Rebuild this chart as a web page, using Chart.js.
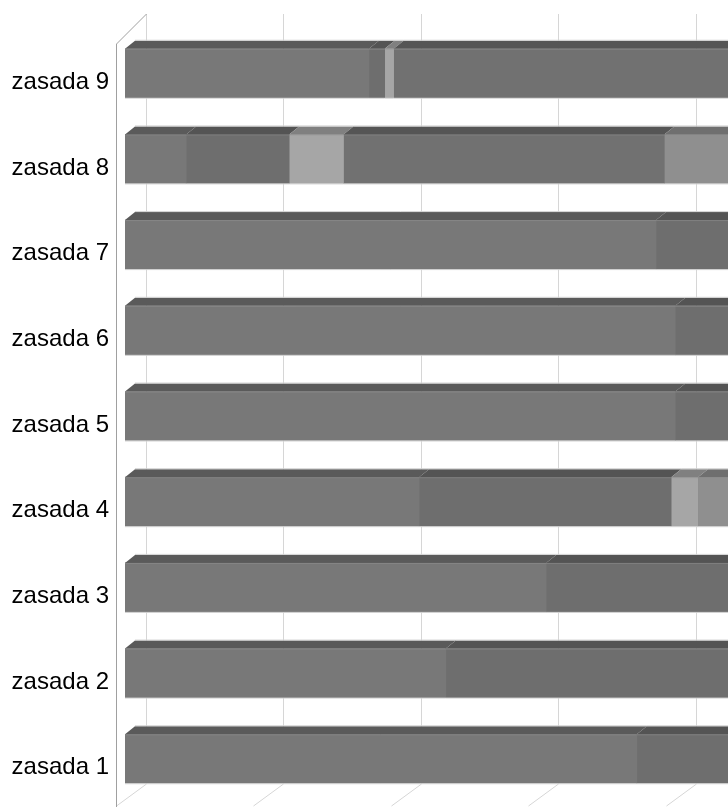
<!DOCTYPE html>
<html>
<head>
<meta charset="utf-8">
<script src="https://cdn.jsdelivr.net/npm/chart.js@4/dist/chart.umd.min.js"></script>
<style>
  html, body { margin: 0; padding: 0; background: #ffffff; overflow: hidden; }
  #wrap { width: 728px; height: 807px; overflow: hidden; position: relative; }
  canvas { display: block; }
</style>
</head>
<body>
<div id="wrap"><canvas id="chart" width="830" height="832"></canvas></div>
<script>
// Categories (listed bottom to top)
const categories = ['zasada 1', 'zasada 2', 'zasada 3', 'zasada 4', 'zasada 5',
                    'zasada 6', 'zasada 7', 'zasada 8', 'zasada 9'];

// Stacked shares, in percent, one array per series
const seriesA = [74.5, 46.7, 61.3, 42.8, 80.1, 80.1, 77.3, 8.9, 35.5];
const seriesB = [25.5, 53.3, 38.7, 36.7, 19.9, 19.9, 22.7, 15.0, 2.3];
const seriesC = [0, 0, 0, 3.9, 0, 0, 0, 7.9, 1.3];
const seriesD = [0, 0, 0, 0, 0, 0, 0, 46.7, 58.0];
const seriesE = [0, 0, 0, 16.6, 0, 0, 0, 21.5, 2.9];

// Value axis gridline positions
const xTicks = [0, 20, 40, 60, 80, 100];

// Front-face and top-face shades per series
const frontColors = ['#787878', '#6e6e6e', '#a6a6a6', '#717171', '#8f8f8f'];
const topColors   = ['#5a5a5a', '#545454', '#808080', '#555555', '#6f6f6f'];

// Oblique depth of a bar, and of the whole plot box (front plane -> back wall)
const BAR_DX = 10, BAR_DY = 8;
const WALL_BACK_DX = 21;      // bar front plane -> back wall
const WALL_TOP = 14;          // top of the back wall
const FLOOR_BACK = 784;       // back edge of the floor
const FLOOR_DX = 30, FLOOR_DY = 22;
const FRONT_EDGE_X = 116;     // front edge of the side wall

const walls3d = {
  id: 'walls3d',
  beforeDatasetsDraw(chart) {
    const ctx = chart.ctx;
    const xs = chart.scales.x;
    ctx.save();
    // gridlines on the back wall and their continuation across the floor
    ctx.strokeStyle = '#d6d6d6';
    ctx.lineWidth = 1;
    xTicks.forEach(v => {
      const xb = Math.round(xs.getPixelForValue(v) + WALL_BACK_DX) + 0.5;
      ctx.beginPath();
      ctx.moveTo(xb, WALL_TOP);
      ctx.lineTo(xb, FLOOR_BACK);
      ctx.lineTo(xb - FLOOR_DX, FLOOR_BACK + FLOOR_DY);
      ctx.stroke();
    });
    // side wall front edge
    ctx.strokeStyle = '#a0a0a0';
    const x0b = Math.round(xs.getPixelForValue(0) + WALL_BACK_DX) + 0.5;
    ctx.beginPath();
    ctx.moveTo(x0b, WALL_TOP);
    ctx.lineTo(FRONT_EDGE_X + 0.5, WALL_TOP + 30);
    ctx.lineTo(FRONT_EDGE_X + 0.5, chart.height);
    ctx.stroke();
    ctx.restore();
  },
  afterDatasetsDraw(chart) {
    const ctx = chart.ctx;
    ctx.save();
    chart.data.datasets.forEach((ds, di) => {
      const meta = chart.getDatasetMeta(di);
      meta.data.forEach(bar => {
        const p = bar.getProps(['x', 'y', 'base', 'height'], true);
        const x1 = Math.min(p.x, p.base), x2 = Math.max(p.x, p.base);
        if (x2 - x1 < 0.5) return;
        const t = p.y - p.height / 2, b = p.y + p.height / 2;
        // top face
        ctx.fillStyle = topColors[di];
        ctx.beginPath();
        ctx.moveTo(x1, t);
        ctx.lineTo(x2, t);
        ctx.lineTo(x2 + BAR_DX, t - BAR_DY);
        ctx.lineTo(x1 + BAR_DX, t - BAR_DY);
        ctx.closePath();
        ctx.fill();
        // thin light outline edges
        ctx.strokeStyle = '#d2d2d2';
        ctx.lineWidth = 1;
        ctx.beginPath();
        ctx.moveTo(x1 + BAR_DX, t - BAR_DY - 0.5);
        ctx.lineTo(x2 + BAR_DX, t - BAR_DY - 0.5);
        ctx.moveTo(x1, b + 0.5);
        ctx.lineTo(x2, b + 0.5);
        ctx.stroke();
        ctx.strokeStyle = 'rgba(150,150,150,0.5)';
        ctx.beginPath();
        ctx.moveTo(x1, t + 0.5);
        ctx.lineTo(x2, t + 0.5);
        ctx.stroke();
      });
    });
    ctx.restore();
  }
};

const seriesList = [seriesA, seriesB, seriesC, seriesD, seriesE];
const datasets = seriesList.map((vals, i) => ({
  label: 'seria ' + (i + 1),
  data: vals,
  backgroundColor: frontColors[i],
  borderWidth: 0,
  barThickness: 49
}));

new Chart(document.getElementById('chart'), {
  type: 'bar',
  data: { labels: categories, datasets },
  options: {
    indexAxis: 'y',
    responsive: false,
    devicePixelRatio: 1,
    animation: false,
    layout: { padding: { left: 0, right: 18, top: 27, bottom: 4.5 } },
    plugins: { legend: { display: false }, tooltip: { enabled: false } },
    scales: {
      x: {
        stacked: true, min: 0, max: 100, display: false,
        ticks: { stepSize: 20 }
      },
      y: {
        stacked: true,
        reverse: true,
        grid: { display: false, drawTicks: false },
        border: { display: false },
        ticks: {
          color: '#000000',
          padding: 16,
          labelOffset: 9,
          font: { family: '"Liberation Sans", Arial, sans-serif', size: 24 }
        },
        afterFit(scale) { scale.width = 125; }
      }
    }
  },
  plugins: [walls3d]
});
</script>
</body>
</html>
